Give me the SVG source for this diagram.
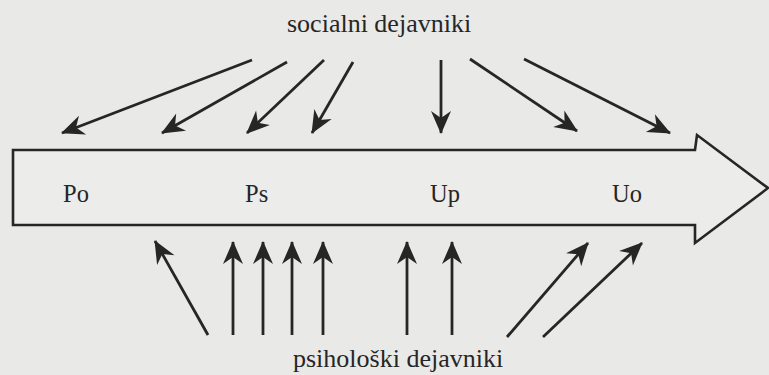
<svg xmlns="http://www.w3.org/2000/svg" width="769" height="375" viewBox="0 0 769 375">
<defs>
<style>
.lbl{font-family:"Liberation Serif","Times New Roman",serif;fill:#262626}
.big{font-size:26px}
.node{font-size:24.5px}
.c line{stroke:#262626;stroke-width:2.8;marker-end:url(#ah)}
</style>
<marker id="ah" viewBox="-24 -12 26 24" refX="0" refY="0" markerWidth="26" markerHeight="24" markerUnits="userSpaceOnUse" orient="auto">
<path d="M1,0 L-22,-10 L-15,0 L-22,10 Z" fill="#262626"/>
</marker>
</defs>
<rect width="769" height="375" fill="#e9e9e7"/>
<g id="process">
<path d="M13,150 L695,150 L697,135 L768,188 L695,243 L695,225 L13,225 Z" fill="#ececea" stroke="#262626" stroke-width="2.6" stroke-linejoin="miter"/>
<text class="lbl node" x="63" y="202">Po</text>
<text class="lbl node" x="245" y="202">Ps</text>
<text class="lbl node" x="430" y="202">Up</text>
<text class="lbl node" x="612" y="202">Uo</text>
</g>
<g id="social">
<text class="lbl big" x="287" y="32">socialni dejavniki</text>
</g>
<g id="psycho">
<text class="lbl big" x="293" y="367">psihološki dejavniki</text>
</g>
<g id="connectors" class="c">
<line x1="252" y1="60" x2="62" y2="133"/>
<line x1="287" y1="62" x2="162" y2="133"/>
<line x1="324" y1="60" x2="247" y2="133"/>
<line x1="353" y1="62" x2="312" y2="133"/>
<line x1="441" y1="60" x2="441" y2="133"/>
<line x1="470" y1="59" x2="577" y2="131"/>
<line x1="524" y1="59" x2="670" y2="133"/>
<line x1="208" y1="335" x2="155" y2="241"/>
<line x1="233" y1="335" x2="233" y2="242"/>
<line x1="263" y1="335" x2="263" y2="242"/>
<line x1="292" y1="335" x2="292" y2="242"/>
<line x1="323" y1="335" x2="323" y2="242"/>
<line x1="407" y1="335" x2="407" y2="242"/>
<line x1="452" y1="335" x2="452" y2="242"/>
<line x1="507" y1="337" x2="588" y2="243"/>
<line x1="543" y1="337" x2="642" y2="243"/>
</g>
</svg>
